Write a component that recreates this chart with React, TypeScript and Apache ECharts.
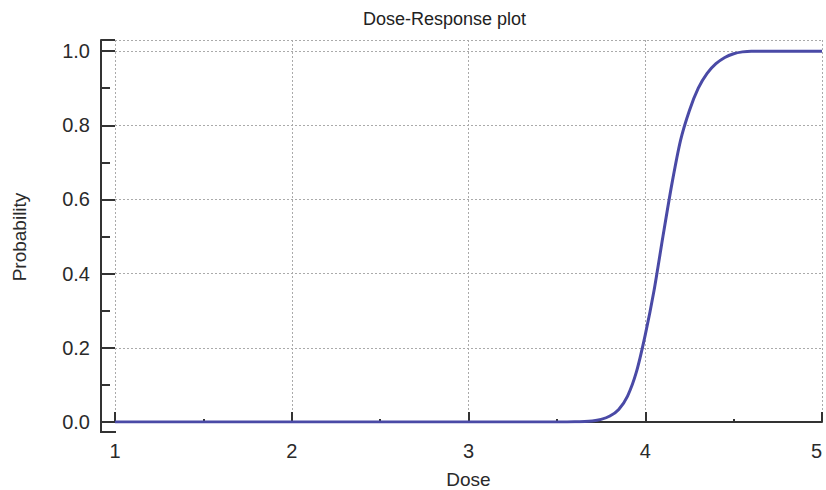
import React, { useEffect, useRef } from "react";
import * as echarts from "echarts";

const doses = [1.0, 3.5, 3.6, 3.7, 3.75, 3.8, 3.85, 3.9, 3.95, 4.0, 4.05, 4.1, 4.15, 4.2, 4.25, 4.3, 4.35, 4.4, 4.45, 4.5, 4.55, 4.6, 5.0];
const probabilities = [0, 0, 0.0005, 0.003, 0.007, 0.016, 0.034, 0.07, 0.135, 0.235, 0.355, 0.5, 0.64, 0.76, 0.84, 0.9, 0.94, 0.966, 0.983, 0.993, 0.998, 1.0, 1.0];
const xTicks = [1, 2, 3, 4, 5];
const yTicks = [0, 0.2, 0.4, 0.6, 0.8, 1.0];

const FONT = "'Liberation Sans', Arial, sans-serif";
const AXIS_COLOR = "#333333";
const TEXT_COLOR = "#2a2a2a";

export default function App() {
  const ref = useRef<HTMLDivElement>(null);

  useEffect(() => {
    if (!ref.current) return;
    const chart = echarts.init(ref.current, null, { renderer: "svg" });
    const data = doses.map((d, i) => [d, probabilities[i]]);
    chart.setOption({
      animation: false,
      backgroundColor: "#ffffff",
      title: {
        text: "Dose-Response plot",
        left: 363,
        top: 10,
        padding: 0,
        textStyle: { fontFamily: FONT, fontSize: 18, fontWeight: "normal", color: "#222222" },
      },
      grid: { left: 115, right: 4, top: 40, bottom: 68, outerBoundsMode: "none", containLabel: false },
      xAxis: {
        type: "value",
        min: xTicks[0],
        max: xTicks[xTicks.length - 1],
        interval: 1,
        offset: 10,
        name: "Dose",
        nameLocation: "middle",
        nameGap: 39,
        nameTextStyle: { fontFamily: FONT, fontSize: 19, lineHeight: 16, color: TEXT_COLOR },
        axisLine: { show: true, lineStyle: { color: AXIS_COLOR, width: 2 } },
        axisTick: { show: true, inside: true, length: 10, lineStyle: { color: AXIS_COLOR, width: 2 } },
        minorTick: { show: true, splitNumber: 2, length: 3, lineStyle: { color: AXIS_COLOR, width: 2 } },
        axisLabel: { fontFamily: FONT, fontSize: 20, color: TEXT_COLOR, margin: 9, alignMaxLabel: "right" },
        splitLine: { show: true, lineStyle: { color: "#aaaaaa", type: [2, 2], width: 1 } },
      },
      yAxis: {
        type: "value",
        min: yTicks[0],
        max: 1.03,
        interval: 0.2,
        offset: 14,
        name: "Probability",
        nameLocation: "middle",
        nameGap: 72,
        nameTextStyle: { fontFamily: FONT, fontSize: 19, color: TEXT_COLOR, padding: [0, 12, 0, 0] },
        axisLine: { show: true, lineStyle: { color: AXIS_COLOR, width: 2 } },
        axisTick: { show: true, inside: true, length: 14, lineStyle: { color: AXIS_COLOR, width: 2 } },
        minorTick: { show: true, splitNumber: 2, length: 9, lineStyle: { color: AXIS_COLOR, width: 2 } },
        axisLabel: {
          fontFamily: FONT,
          fontSize: 20,
          color: TEXT_COLOR,
          margin: 11,
          formatter: (v: number) => v.toFixed(1),
        },
        splitLine: { show: true, lineStyle: { color: "#aaaaaa", type: [2, 2], width: 1 } },
      },
      graphic: [
        {
          type: "polyline",
          silent: true,
          shape: { points: [[101, 421], [101, 432], [116, 432]] },
          style: { stroke: AXIS_COLOR, lineWidth: 2, fill: "none" },
        },
      ],
      series: [
        {
          type: "line",
          data,
          showSymbol: false,
          smooth: 0.25,
          lineStyle: { color: "#4a4aa6", width: 3 },
          itemStyle: { color: "#4a4aa6" },
        },
      ],
    });
    return () => chart.dispose();
  }, []);

  return (
    <div
      ref={ref}
      style={{ position: "fixed", left: 0, top: 0, width: 826, height: 490 }}
    />
  );
}
